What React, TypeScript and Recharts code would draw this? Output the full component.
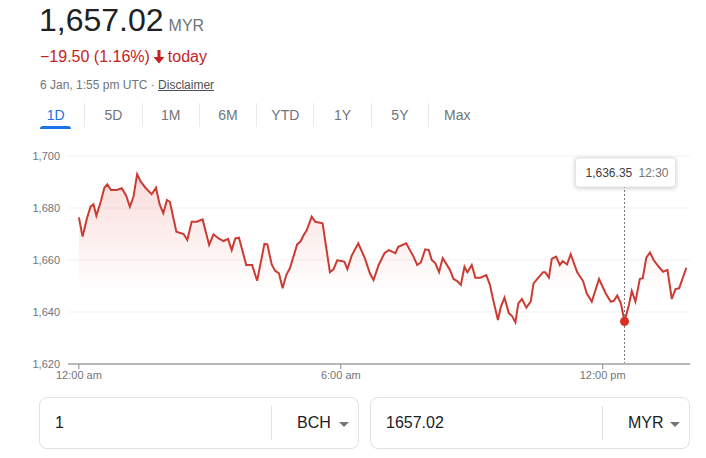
import React from "react";
import {
  ComposedChart,
  Area,
  XAxis,
  YAxis,
  CartesianGrid,
  ReferenceLine,
  ReferenceDot,
} from "recharts";

// minutes since midnight (UTC), 6 Jan
const times = [
  0, 5, 11, 16, 20, 24, 30, 35, 39, 44, 52, 59, 65, 70, 75, 80, 85, 92, 100,
  106, 111, 116, 121, 125, 134, 144, 149, 155, 162, 170, 179, 185, 192, 199,
  205, 210, 215, 220, 230, 238, 245, 255, 259, 265, 270, 275, 280, 285, 290,
  300, 305, 309, 313, 320, 325, 335, 345, 350, 355, 361, 365, 369, 375, 384,
  393, 400, 405, 412, 420, 426, 435, 439, 450, 455, 460, 465, 470, 476, 481,
  485, 490, 495, 500, 505, 510, 515, 520, 525, 530, 534, 540, 545, 552, 560,
  565, 570, 576, 580, 585, 591, 595, 600, 604, 609, 615, 621, 625, 631, 638,
  641, 646, 650, 656, 661, 665, 671, 676, 685, 693, 698, 705, 715, 724, 731,
  735, 740, 745, 750, 756, 760, 765, 771, 775, 780, 785, 790, 797, 803, 809,
  815, 820, 825, 835,
];

const prices = [
  1676.4, 1669.0, 1676.0, 1680.5, 1681.4, 1677.0, 1682.4, 1687.8, 1689.1,
  1686.9, 1686.9, 1687.6, 1684.7, 1680.5, 1684.3, 1693.0, 1690.1, 1687.6,
  1685.3, 1687.8, 1681.4, 1678.0, 1683.1, 1682.4, 1670.9, 1670.0, 1667.7,
  1674.7, 1674.7, 1675.6, 1665.8, 1669.9, 1668.3, 1667.3, 1668.1, 1663.8,
  1668.3, 1668.6, 1658.1, 1658.1, 1652.0, 1666.2, 1666.0, 1658.3, 1655.8,
  1654.9, 1649.1, 1654.2, 1656.8, 1666.0, 1667.3, 1669.6, 1671.3, 1676.7,
  1674.7, 1674.1, 1655.3, 1656.4, 1659.9, 1659.6, 1659.3, 1656.5, 1661.7,
  1666.4, 1660.7, 1654.9, 1652.3, 1658.1, 1662.6, 1663.8, 1662.6, 1665.1,
  1666.4, 1663.8, 1661.3, 1658.1, 1659.1, 1664.1, 1663.8, 1660.0, 1658.7,
  1655.3, 1660.7, 1658.5, 1656.2, 1652.7, 1651.9, 1650.4, 1657.4, 1655.3,
  1658.1, 1653.2, 1653.2, 1654.2, 1650.4, 1644.0, 1636.9, 1642.0, 1645.5,
  1639.5, 1638.6, 1636.0, 1643.3, 1645.0, 1641.7, 1644.0, 1651.0, 1653.0,
  1655.3, 1655.3, 1653.2, 1660.4, 1661.3, 1658.1, 1659.6, 1658.3, 1662.2,
  1655.3, 1651.9, 1647.2, 1644.0, 1652.7, 1647.2, 1644.0, 1644.2, 1646.3,
  1643.3, 1636.35, 1642.7, 1648.1, 1644.0, 1652.7, 1653.0, 1660.9, 1662.9,
  1660.0, 1657.4, 1655.5, 1656.2, 1645.0, 1648.8, 1649.1, 1657.02,
];

const yTicks = [1620, 1640, 1660, 1680, 1700];
const xTicks = [0, 360, 720];
const xTickLabels = ["12:00 am", "6:00 am", "12:00 pm"];
const ranges = ["1D", "5D", "1M", "6M", "YTD", "1Y", "5Y", "Max"];

const hoverTime = 750;
const hoverLabel = "12:30";

const data = times.map((t, i) => ({ t, price: prices[i] }));
const hoverPrice = prices[times.indexOf(hoverTime)];

const FONT = "Arial, 'Liberation Sans', sans-serif";
const RED = "#c5221f";
const GREY = "#70757a";

const fmt = (v: number, d = 0) =>
  v.toLocaleString("en-US", { minimumFractionDigits: d, maximumFractionDigits: d });

function HoverBox(props: any) {
  const vb = props.viewBox || {};
  const cx = vb.x;
  const top = vb.y + 2;
  return (
    <g>
      <rect
        x={cx - 49}
        y={top}
        width={100}
        height={29}
        rx={3}
        fill="#fff"
        stroke="#e3e3e3"
        style={{ filter: "drop-shadow(0 1px 2px rgba(0,0,0,0.2))" }}
      />
      <text x={cx - 39} y={top + 19} fontSize={12} fill="#3c4043" fontFamily={FONT}>
        {fmt(hoverPrice, 2)}
      </text>
      <text x={cx + 14} y={top + 19} fontSize={12} fill={GREY} fontFamily={FONT}>
        {hoverLabel}
      </text>
    </g>
  );
}

function Converter({ left, value, unit }: { left: number; value: string; unit: string }) {
  return (
    <div
      style={{
        position: "absolute",
        left,
        top: 397,
        width: 320,
        height: 52,
        border: "1px solid #dfe1e5",
        borderRadius: 8,
        boxSizing: "border-box",
        fontSize: 16,
        color: "#202124",
      }}
    >
      <span style={{ position: "absolute", left: 15, top: 16 }}>{value}</span>
      <div
        style={{
          position: "absolute",
          left: 231,
          top: 8,
          width: 1,
          height: 34,
          background: "#e3e3e3",
        }}
      />
      <span style={{ position: "absolute", left: 257, top: 16 }}>{unit}</span>
      <svg
        width={10}
        height={5}
        style={{ position: "absolute", left: 299, top: 24 }}
        viewBox="0 0 10 5"
      >
        <path d="M0 0 L10 0 L5 5 Z" fill="#757575" />
      </svg>
    </div>
  );
}

export default function App() {
  return (
    <div
      style={{
        position: "absolute",
        left: 0,
        top: 0,
        width: 706,
        height: 458,
        background: "#fff",
        fontFamily: FONT,
        overflow: "hidden",
      }}
    >
      <div style={{ position: "absolute", left: 39, top: 2, whiteSpace: "nowrap" }}>
        <span style={{ fontSize: 32, color: "#202124" }}>1,657.02</span>
        <span style={{ fontSize: 16, color: GREY, marginLeft: 5 }}>MYR</span>
      </div>
      <div
        style={{
          position: "absolute",
          left: 40,
          top: 48,
          fontSize: 16,
          color: RED,
          whiteSpace: "nowrap",
          display: "flex",
          alignItems: "center",
        }}
      >
        <span>−19.50 (1.16%)</span>
        <svg width={12} height={14} viewBox="0 0 12 14" style={{ margin: "0 3px 0 3px" }}>
          <path d="M4.5 0 H7.5 V7 H11.5 L6 13.5 L0.5 7 H4.5 Z" fill={RED} />
        </svg>
        <span>today</span>
      </div>
      <div
        style={{
          position: "absolute",
          left: 40,
          top: 78,
          fontSize: 12,
          color: GREY,
          whiteSpace: "nowrap",
        }}
      >
        6 Jan, 1:55 pm UTC ·{" "}
        <span style={{ textDecoration: "underline", color: "#4d5156" }}>Disclaimer</span>
      </div>

      <div style={{ position: "absolute", left: 27, top: 103, display: "flex" }}>
        {ranges.map((r, i) => (
          <div
            key={r}
            style={{
              position: "relative",
              width: 57.3,
              height: 24,
              textAlign: "center",
              fontSize: 14,
              lineHeight: "24px",
              color: i === 0 ? "#1a73e8" : GREY,
              borderLeft: i === 0 ? "none" : "1px solid #e8eaed",
              boxSizing: "border-box",
            }}
          >
            {r}
            {i === 0 && (
              <div
                style={{
                  position: "absolute",
                  left: 13,
                  top: 23,
                  width: 31,
                  height: 3,
                  background: "#1a73e8",
                  borderRadius: "3px 3px 0 0",
                }}
              />
            )}
          </div>
        ))}
      </div>

      <div style={{ position: "absolute", left: 0, top: 140 }}>
        <ComposedChart
          width={706}
          height={260}
          data={data}
          margin={{ top: 16, right: 16, bottom: 6, left: 28 }}
        >
          <defs>
            <linearGradient id="fade" x1="0" y1="0" x2="0" y2="1">
              <stop offset="0%" stopColor="#d93025" stopOpacity={0.28} />
              <stop offset="62%" stopColor="#d93025" stopOpacity={0} />
            </linearGradient>
          </defs>
          <CartesianGrid vertical={false} stroke="#f1f1f1" />
          <XAxis
            dataKey="t"
            type="number"
            domain={[-15, 840]}
            ticks={xTicks}
            tickFormatter={(v) => xTickLabels[xTicks.indexOf(v)]}
            axisLine={{ stroke: "#b8b8b8", strokeWidth: 2 }}
            tickLine={{ stroke: "#888" }}
            tickSize={5}
            tick={{ fill: GREY, fontSize: 11, fontFamily: FONT }}
            height={30}
          />
          <YAxis
            type="number"
            domain={[1620, 1700]}
            ticks={yTicks}
            width={40}
            axisLine={false}
            tickLine={false}
            tickMargin={2}
            tickFormatter={(v) => fmt(v)}
            tick={{ fill: GREY, fontSize: 11, fontFamily: FONT }}
          />
          <Area
            type="linear"
            dataKey="price"
            stroke="#cc3b33"
            strokeWidth={2}
            fill="url(#fade)"
            baseValue={1620}
            dot={false}
            activeDot={false}
            isAnimationActive={false}
          />
          <ReferenceLine
            x={hoverTime}
            stroke="#777"
            strokeDasharray="2 2"
            label={(p: any) => <HoverBox {...p} />}
          />
          <ReferenceDot x={hoverTime} y={hoverPrice} r={4.5} fill="#d93025" stroke="none" />
        </ComposedChart>
      </div>

      <Converter left={39} value="1" unit="BCH" />
      <Converter left={370} value="1657.02" unit="MYR" />
    </div>
  );
}
